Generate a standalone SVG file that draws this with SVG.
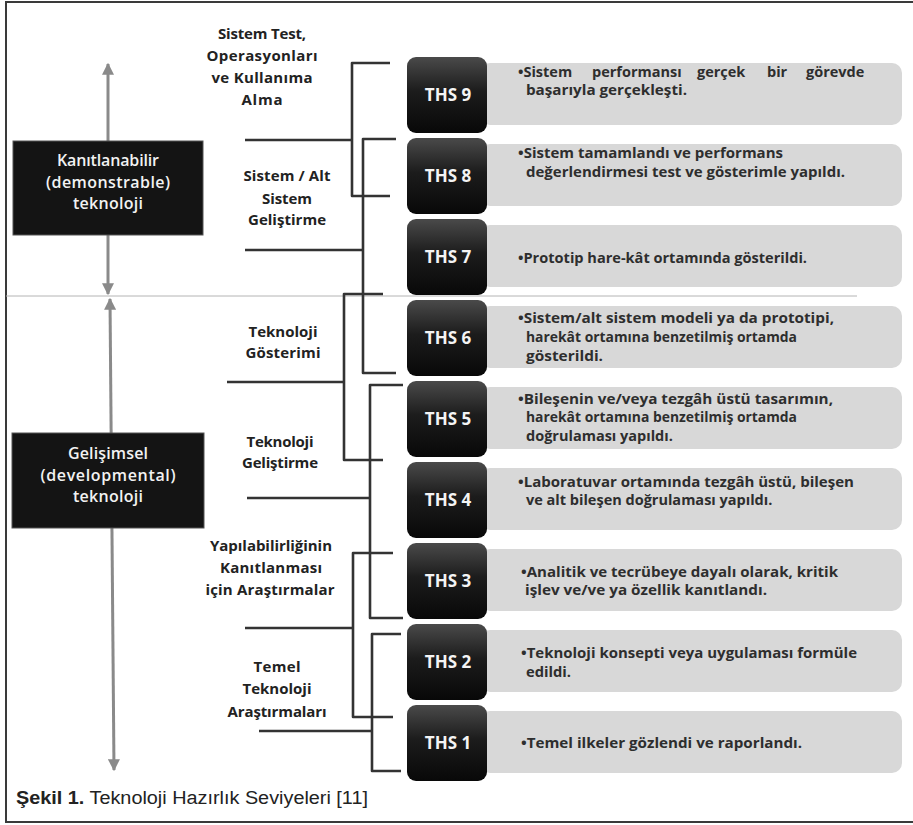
<svg xmlns="http://www.w3.org/2000/svg" width="913" height="825" viewBox="0 0 913 825">
<defs>
<linearGradient id="dk" x1="0" y1="0" x2="0" y2="1">
<stop offset="0" stop-color="#4a4a4a"/>
<stop offset="0.45" stop-color="#1c1c1c"/>
<stop offset="1" stop-color="#080808"/>
</linearGradient>
<marker id="ah" viewBox="0 0 10 10" refX="9" refY="5" markerWidth="4" markerHeight="4" orient="auto-start-reverse" markerUnits="strokeWidth">
<path d="M0,0 L10,5 L0,10 z" fill="#8a8a8a"/>
</marker>
<style>
.frame{fill:none;stroke:#3a3a3a;stroke-width:2}
.div{stroke:#b4b4b4;stroke-width:1}
.arr{stroke:#8a8a8a;stroke-width:3;fill:none}
.br{fill:none;stroke:#333;stroke-width:2.6;stroke-linejoin:round;stroke-linecap:butt}
.stem{stroke:#333;stroke-width:2.6}
.cat{fill:#141414;stroke:#555;stroke-width:1}
.catt{font-family:"Open Sans","DejaVu Sans",sans-serif;font-size:16px;font-weight:600;fill:#f2f2f2;text-anchor:middle}
.stg{font-family:"Open Sans","DejaVu Sans",sans-serif;font-size:15px;font-weight:700;fill:#222;text-anchor:middle}
.ths{fill:url(#dk)}
.thst{font-family:"Open Sans","DejaVu Sans",sans-serif;font-size:17px;font-weight:700;fill:#f4f4f4;text-anchor:middle}
.pan{fill:#d8d8d8}
.dsc{font-family:"Open Sans","DejaVu Sans",sans-serif;font-size:14.5px;font-weight:700;fill:#2e2e2e}
.cap{font-family:"Liberation Sans",Arial,sans-serif;font-size:18px;fill:#222}
</style>
</defs>
<rect width="913" height="825" fill="#ffffff"/>
<path class="frame" d="M913,2 L6,2 L6,822 L913,822"/>
<line class="div" x1="6" y1="296" x2="857" y2="296"/>

<g id="connectors">
<line class="arr" x1="108" y1="64" x2="108" y2="294" marker-start="url(#ah)" marker-end="url(#ah)"/>
<line class="arr" x1="110" y1="299" x2="114" y2="770" marker-start="url(#ah)" marker-end="url(#ah)"/>
<path class="br" d="M390,63 L352,63 L352,196 L390,196"/>
<line class="stem" x1="245" y1="140" x2="352" y2="140"/>
<path class="br" d="M396,139 L363,139 L363,373 L396,373"/>
<line class="stem" x1="245" y1="250" x2="363" y2="250"/>
<path class="br" d="M383,294 L344,294 L344,460 L383,460"/>
<line class="stem" x1="227" y1="382" x2="344" y2="382"/>
<path class="br" d="M403,385 L370,385 L370,618 L403,618"/>
<line class="stem" x1="247" y1="498" x2="370" y2="498"/>
<path class="br" d="M393,553 L353,553 L353,717 L393,717"/>
<line class="stem" x1="245" y1="628" x2="353" y2="628"/>
<path class="br" d="M401,634 L372,634 L372,771 L401,771"/>
<line class="stem" x1="259" y1="731" x2="372" y2="731"/>
</g>

<g id="cat-demonstrable">
<rect class="cat" x="13" y="141" width="190" height="94"/>
<text class="catt" x="108" y="166" textLength="102">Kanıtlanabilir</text>
<text class="catt" x="108" y="188" textLength="124">(demonstrable)</text>
<text class="catt" x="108" y="209" textLength="70">teknoloji</text>
</g>
<g id="cat-developmental">
<rect class="cat" x="12" y="433" width="192" height="95"/>
<text class="catt" x="108" y="459" textLength="80">Gelişimsel</text>
<text class="catt" x="108" y="481" textLength="135">(developmental)</text>
<text class="catt" x="108" y="502" textLength="70">teknoloji</text>
</g>

<g id="stage-test">
<text class="stg" x="262" y="39" textLength="88">Sistem Test,</text>
<text class="stg" x="262" y="61" textLength="111">Operasyonları</text>
<text class="stg" x="262" y="83" textLength="101">ve Kullanıma</text>
<text class="stg" x="262" y="105" textLength="41">Alma</text>
</g>
<g id="stage-system">
<text class="stg" x="287" y="181" textLength="87">Sistem / Alt</text>
<text class="stg" x="287" y="204" textLength="50">Sistem</text>
<text class="stg" x="287" y="225" textLength="78">Geliştirme</text>
</g>
<g id="stage-demo">
<text class="stg" x="283" y="337" textLength="69">Teknoloji</text>
<text class="stg" x="283" y="358" textLength="75">Gösterimi</text>
</g>
<g id="stage-dev">
<text class="stg" x="280" y="447" textLength="67">Teknoloji</text>
<text class="stg" x="280" y="468" textLength="76">Geliştirme</text>
</g>
<g id="stage-feas">
<text class="stg" x="271" y="551" textLength="122">Yapılabilirliğinin</text>
<text class="stg" x="271" y="573" textLength="102">Kanıtlanması</text>
<text class="stg" x="270" y="595" textLength="129">için Araştırmalar</text>
</g>
<g id="stage-basic">
<text class="stg" x="277" y="672" textLength="47">Temel</text>
<text class="stg" x="277" y="694" textLength="69">Teknoloji</text>
<text class="stg" x="277" y="717" textLength="99">Araştırmaları</text>
</g>

<g id="ths9">
<rect class="pan" x="480" y="63" width="422" height="62" rx="10"/>
<rect class="ths" x="407" y="57" width="80" height="76" rx="9"/>
<text class="thst" x="448" y="101">THS 9</text>
<text class="dsc" y="77"><tspan x="518">•Sistem</tspan> <tspan x="592">performansı</tspan> <tspan x="697">gerçek</tspan> <tspan x="767">bir</tspan> <tspan x="806">görevde</tspan></text>
<text class="dsc" x="526" y="95" textLength="161" lengthAdjust="spacingAndGlyphs">başarıyla gerçekleşti.</text>
</g>
<g id="ths8">
<rect class="pan" x="480" y="144" width="422" height="62" rx="10"/>
<rect class="ths" x="407" y="138" width="80" height="76" rx="9"/>
<text class="thst" x="448" y="182">THS 8</text>
<text class="dsc" x="518" y="158" textLength="265" lengthAdjust="spacingAndGlyphs">•Sistem tamamlandı ve performans</text>
<text class="dsc" x="526" y="177" textLength="319" lengthAdjust="spacingAndGlyphs">değerlendirmesi test ve gösterimle yapıldı.</text>
</g>
<g id="ths7">
<rect class="pan" x="480" y="225" width="422" height="62" rx="10"/>
<rect class="ths" x="407" y="219" width="80" height="76" rx="9"/>
<text class="thst" x="448" y="263">THS 7</text>
<text class="dsc" x="518" y="263" textLength="289" lengthAdjust="spacingAndGlyphs">•Prototip hare-kât ortamında gösterildi.</text>
</g>
<g id="ths6">
<rect class="pan" x="480" y="306" width="422" height="62" rx="10"/>
<rect class="ths" x="407" y="300" width="80" height="76" rx="9"/>
<text class="thst" x="448" y="344">THS 6</text>
<text class="dsc" x="518" y="323" textLength="316" lengthAdjust="spacingAndGlyphs">•Sistem/alt sistem modeli ya da prototipi,</text>
<text class="dsc" x="526" y="342" textLength="271" lengthAdjust="spacingAndGlyphs">harekât ortamına benzetilmiş ortamda</text>
<text class="dsc" x="526" y="361" textLength="77" lengthAdjust="spacingAndGlyphs">gösterildi.</text>
</g>
<g id="ths5">
<rect class="pan" x="480" y="387" width="422" height="62" rx="10"/>
<rect class="ths" x="407" y="381" width="80" height="76" rx="9"/>
<text class="thst" x="448" y="425">THS 5</text>
<text class="dsc" x="518" y="404" textLength="315" lengthAdjust="spacingAndGlyphs">•Bileşenin ve/veya tezgâh üstü tasarımın,</text>
<text class="dsc" x="526" y="422" textLength="271" lengthAdjust="spacingAndGlyphs">harekât ortamına benzetilmiş ortamda</text>
<text class="dsc" x="526" y="441">doğrulaması yapıldı.</text>
</g>
<g id="ths4">
<rect class="pan" x="480" y="468" width="422" height="62" rx="10"/>
<rect class="ths" x="407" y="462" width="80" height="76" rx="9"/>
<text class="thst" x="448" y="506">THS 4</text>
<text class="dsc" x="518" y="487" textLength="336" lengthAdjust="spacingAndGlyphs">•Laboratuvar ortamında tezgâh üstü, bileşen</text>
<text class="dsc" x="526" y="505">ve alt bileşen doğrulaması yapıldı.</text>
</g>
<g id="ths3">
<rect class="pan" x="480" y="549" width="422" height="62" rx="10"/>
<rect class="ths" x="407" y="543" width="80" height="76" rx="9"/>
<text class="thst" x="448" y="587">THS 3</text>
<text class="dsc" x="521" y="577" textLength="317" lengthAdjust="spacingAndGlyphs">•Analitik ve tecrübeye dayalı olarak, kritik</text>
<text class="dsc" x="525" y="595" textLength="242" lengthAdjust="spacingAndGlyphs">işlev ve/ve ya özellik kanıtlandı.</text>
</g>
<g id="ths2">
<rect class="pan" x="480" y="630" width="422" height="62" rx="10"/>
<rect class="ths" x="407" y="624" width="80" height="76" rx="9"/>
<text class="thst" x="448" y="668">THS 2</text>
<text class="dsc" x="521" y="658" textLength="336" lengthAdjust="spacingAndGlyphs">•Teknoloji konsepti veya uygulaması formüle</text>
<text class="dsc" x="526" y="677" textLength="45" lengthAdjust="spacingAndGlyphs">edildi.</text>
</g>
<g id="ths1">
<rect class="pan" x="480" y="711" width="422" height="62" rx="10"/>
<rect class="ths" x="407" y="705" width="80" height="76" rx="9"/>
<text class="thst" x="448" y="749">THS 1</text>
<text class="dsc" x="521" y="748" textLength="281" lengthAdjust="spacingAndGlyphs">•Temel ilkeler gözlendi ve raporlandı.</text>
</g>

<text class="cap" x="16" y="804" textLength="352" lengthAdjust="spacingAndGlyphs"><tspan font-weight="700">Şekil 1.</tspan> Teknoloji Hazırlık Seviyeleri [11]</text>
</svg>
